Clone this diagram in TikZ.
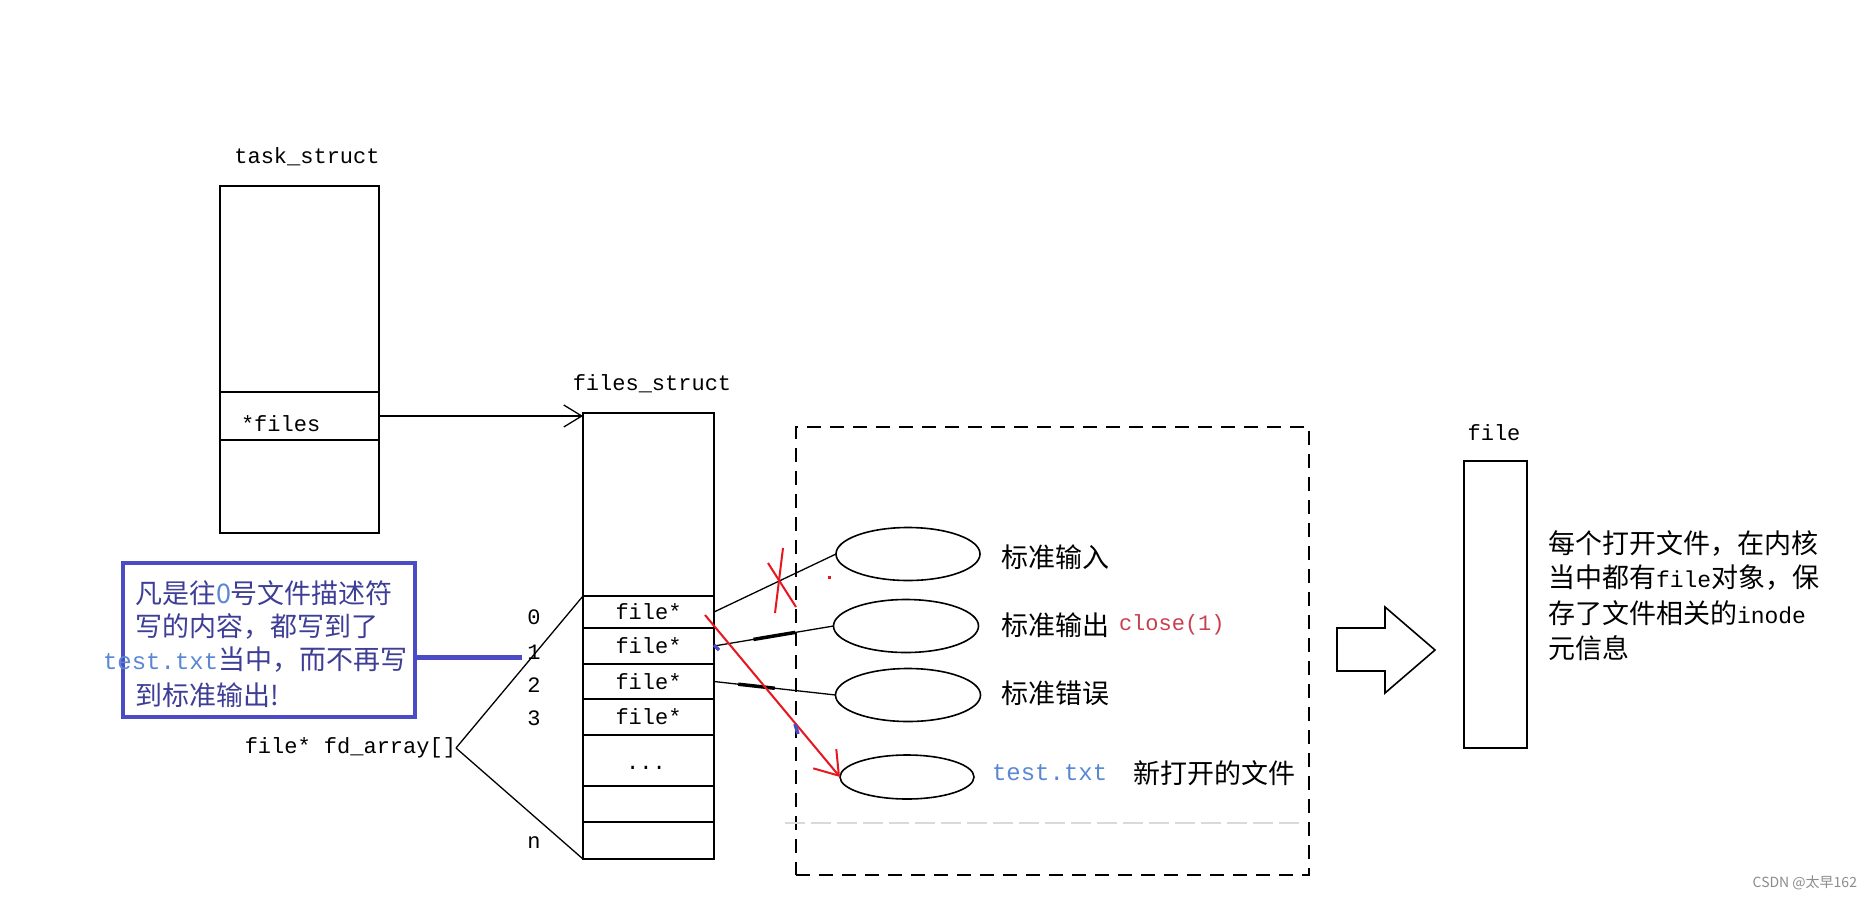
\documentclass[tikz,border=0pt]{standalone}
\usepackage{fontspec}
\newfontfamily\cjk{Noto Sans CJK SC}
\newfontfamily\mono{Liberation Mono}
\usetikzlibrary{arrows.meta,calc,shapes.geometric}
\definecolor{notebd}{HTML}{4B4BC6}
\definecolor{notetx}{HTML}{3E3E96}
\definecolor{lblue}{HTML}{5B88D2}
\definecolor{redc}{HTML}{E8161E}
\definecolor{closec}{HTML}{C8404E}
\begin{document}
\begin{tikzpicture}[x=1pt,y=-1pt,
  every node/.style={inner sep=0pt, outer sep=0pt},
  frame/.style={draw, line width=1.6pt},
  wire/.style={line width=1.3pt},
  ell/.style={draw, ellipse, line width=1.6pt},
  mtw/.style={font=\mono\fontsize{22}{22}\selectfont},
  cjb/.style={font=\cjk\fontsize{27}{30}\selectfont},
  cjr/.style={font=\cjk\fontsize{27}{30}\selectfont, anchor=west},
  redpen/.style={draw=redc, line width=2pt}
]
\useasboundingbox[fill=white] (0,0) rectangle (1873,903);

% task_struct
\node[mtw] (tasklbl) at (307,157) {task\_struct};
\node[frame, minimum width=159pt, minimum height=347pt, anchor=north west] (task) at (220,186) {};
\node[frame, minimum width=159pt, minimum height=48pt, anchor=north west] (tfiles) at (220,392) {};
\node[mtw, anchor=west] (tftxt) at (241,424) {*files};

% files_struct
\node[mtw] (fslbl) at (652,384) {files\_struct};
\node[frame, minimum width=131pt, minimum height=446pt, anchor=north west] (fs) at (583,413) {};
\foreach \n/\t/\h/\txt in {r0/596/32/file*, r1/628/36/file*, r2/664/35/file*, r3/699/36/file*, rd/735/51/, r5/786/36/, rn/822/37/}
  \node[frame, mtw, minimum width=131pt, minimum height=\h pt, anchor=north west] (\n) at (583,\t) {\txt};
\node[mtw] (dots) at (646,768) {...};

\draw[wire, -{Straight Barb[length=18pt,width=22pt]}] (tfiles.east) -- (tfiles.east -| fs.west);

% indices
\node[mtw] (i0) at (534,617) {0};
\node[mtw] (i1) at (534,652) {1};
\node[mtw] (i2) at (534,685) {2};
\node[mtw] (i3) at (534,718) {3};
\node[mtw] (in) at (534,843) {n};

\node[mtw, anchor=east] (fd) at (456,748) {file* fd\_array[]};
\draw[wire] (fd.east) -- (r0.north west);
\draw[wire] (fd.east) -- (rn.south west);

% blue note
\node[draw=notebd, line width=4pt, minimum width=292pt, minimum height=154pt, anchor=north west] (note) at (123,563) {};
\node[cjb, text=notetx, anchor=west] (n1) at (135,593) {凡是往{\color{lblue}0}号文件描述符};
\node[cjb, text=notetx, anchor=west] (n2) at (135,626) {写的内容，都写到了};
\node[cjb, text=notetx, anchor=west] (n3) at (103,660) {{\mono\fontsize{24}{24}\selectfont\color{lblue}test.txt}当中，而不再写};
\node[cjb, text=notetx, anchor=west] (n4) at (135,695) {到标准输出!};
\coordinate (bend) at (522,657);
\draw[notebd, line width=5pt] (note.east |- bend) -- (bend);

% dashed group
\node[draw, dash pattern=on 14pt off 9pt, line width=1.6pt, minimum width=513pt, minimum height=448pt, anchor=north west] (grp) at (796,427) {};
\draw[black!15, dash pattern=on 20pt off 6pt, line width=1.2pt] (785,823) -- (1305,823);

\node[ell, minimum width=144pt, minimum height=53pt] (e1) at (908,554) {};
\node[ell, minimum width=145pt, minimum height=53pt] (e2) at (906,626) {};
\node[ell, minimum width=145pt, minimum height=53pt] (e3) at (908,695) {};
\node[ell, minimum width=134pt, minimum height=44pt] (e4) at (907,777) {};

\node[cjb, anchor=west] (t1) at (1001,557) {标准输入};
\node[cjb, anchor=west] (t2) at (1001,625) {标准输出};
\node[mtw, text=closec, anchor=west] (t2c) at (1119,625) {close(1)};
\node[cjb, anchor=west] (t3) at (1001,693) {标准错误};
\node[font=\mono\fontsize{24}{24}\selectfont, text=lblue, anchor=west] (t4a) at (992,773) {test.txt};
\node[cjb, anchor=west] (t4) at (1133,773) {新打开的文件};

% connectors
\draw[wire] (r0.east) -- (e1.west);
\draw[wire] (r1.east) -- (e2.west);
\draw[line width=3.5pt] ($(r1.east)!0.33!(e2.west)$) -- ($(r1.east)!0.68!(e2.west)$);
\draw[wire] (r2.east) -- (e3.west);
\draw[line width=3.5pt] ($(r2.east)!0.2!(e3.west)$) -- ($(r2.east)!0.5!(e3.west)$);

% red marks
\draw[redpen] (783,548) -- (775,613);
\draw[redpen] (768,563) -- (796,607);
\fill[redc] (828,576) rectangle (831,579);
\coordinate (rs) at (705,615);
\draw[redpen, -{Straight Barb[length=22pt,width=30pt]}] (rs) -- (e4.west);

% blue smudges
\draw[notebd, line width=3.5pt] (714,645) -- (719,650);
\draw[notebd, line width=3.5pt] (795,724) -- (798,734);

% big arrow
\draw[line width=1.6pt] (1337,628) -- (1385,628) -- (1385,607) -- (1435,650) -- (1385,693) -- (1385,671) -- (1337,671) -- cycle;

% file
\node[mtw] (flbl) at (1494,433) {file};
\node[frame, minimum width=63pt, minimum height=287pt, anchor=north west] (fbox) at (1464,461) {};

\node[cjr] (f1) at (1548,543) {每个打开文件，在内核};
\node[cjr] (f2) at (1548,578) {当中都有{\mono\fontsize{23}{23}\selectfont file}对象，保};
\node[cjr] (f3) at (1548,613) {存了文件相关的{\mono\fontsize{23}{23}\selectfont inode}};
\node[cjr] (f4) at (1548,648) {元信息};

\node[font=\cjk\fontsize{14}{14}\selectfont, text=black!45, anchor=east] (wm) at (1857,883) {CSDN @太早162};
\end{tikzpicture}
\end{document}
